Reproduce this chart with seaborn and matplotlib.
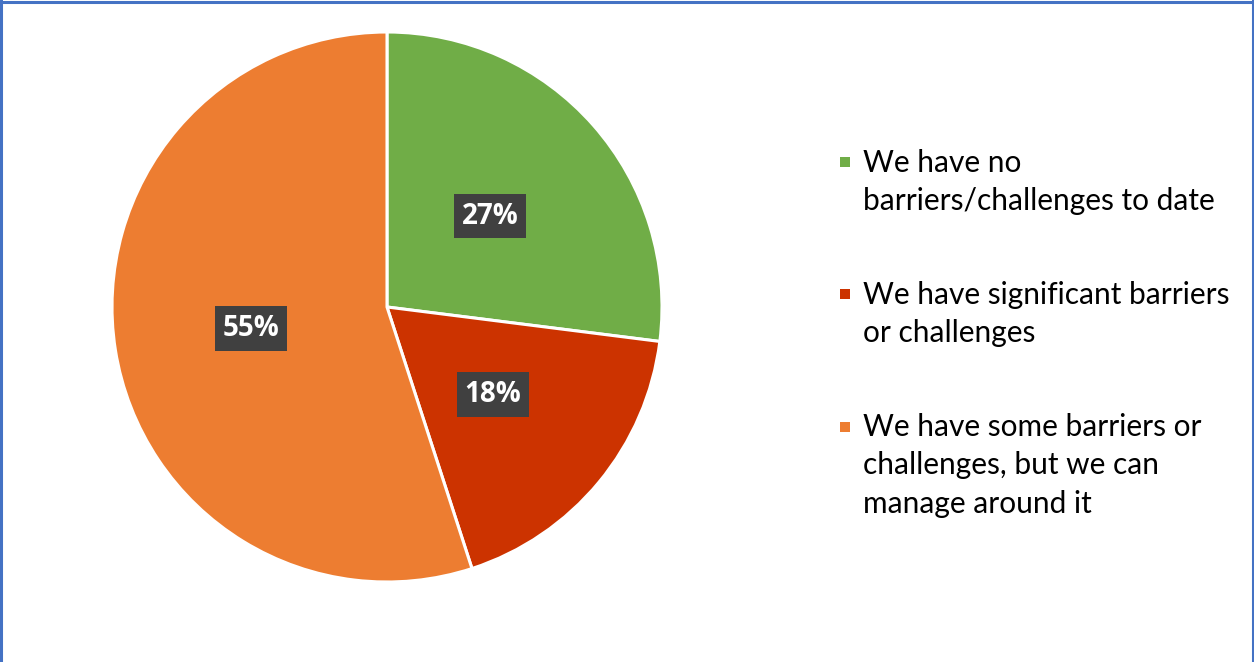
"""Pie chart of reported barriers/challenges."""

import matplotlib

matplotlib.use("Agg")
import matplotlib.pyplot as plt
import seaborn as sns
from matplotlib.lines import Line2D
from matplotlib.patches import Rectangle

labels = [
    "We have no\nbarriers/challenges to date",
    "We have significant barriers\nor challenges",
    "We have some barriers or\nchallenges, but we can\nmanage around it",
]
shares = [27, 18, 55]
colors = ["#70AD47", "#CC3300", "#ED7D31"]

sns.set_theme(style="white")
plt.rcParams["font.family"] = ["Lato", "DejaVu Sans"]

W, H = 1254, 662
fig = plt.figure(figsize=(W / 100, H / 100), dpi=100)

# pie axes: centre (387, 307) px, radius 275 px
cx, cy, r = 387, 307, 275
ax = fig.add_axes([(cx - r) / W, (H - cy - r) / H, 2 * r / W, 2 * r / H])
wedges, _, autotexts = ax.pie(
    shares,
    colors=colors,
    startangle=90,
    counterclock=False,
    autopct="%d%%",
    pctdistance=0.5,
    wedgeprops=dict(edgecolor="white", linewidth=2.2),
    textprops=dict(color="white", fontsize=20, fontweight="bold",
                   family=["Open Sans", "DejaVu Sans"]),
    radius=1.0,
)
for t in autotexts:
    t.set_bbox(dict(boxstyle="square,pad=0.28", fc="#404040", ec="none"))
ax.set_xlim(-1.0, 1.0)
ax.set_ylim(-1.0, 1.0)
ax.set_aspect("equal")
ax.axis("off")

# legend drawn by hand so the swatch sits on the first line of each entry
legend_y = [162, 294, 427]
text_top = [149, 281, 413]
for lab, col, y, ty in zip(labels, colors, legend_y, text_top):
    fig.patches.append(
        Rectangle((840 / W, 1 - (y + 5) / H), 10 / W, 10 / H,
                  transform=fig.transFigure, facecolor=col, edgecolor="none")
    )
    fig.text(863 / W, 1 - ty / H, lab, ha="left", va="top",
             fontsize=21.5, color="black", linespacing=1.45)

# outer frame (top, left, right)
frame = dict(color="#4472C4", linewidth=2.2, transform=fig.transFigure)
fig.lines.append(Line2D([0.0008, 0.0008], [0, 1], **frame))
fig.lines.append(Line2D([0, 1], [1 - 2 / H, 1 - 2 / H], **frame))
fig.lines.append(Line2D([1 - 1.5 / W, 1 - 1.5 / W], [0, 1], **frame))

fig.savefig("out.png", dpi=100)
